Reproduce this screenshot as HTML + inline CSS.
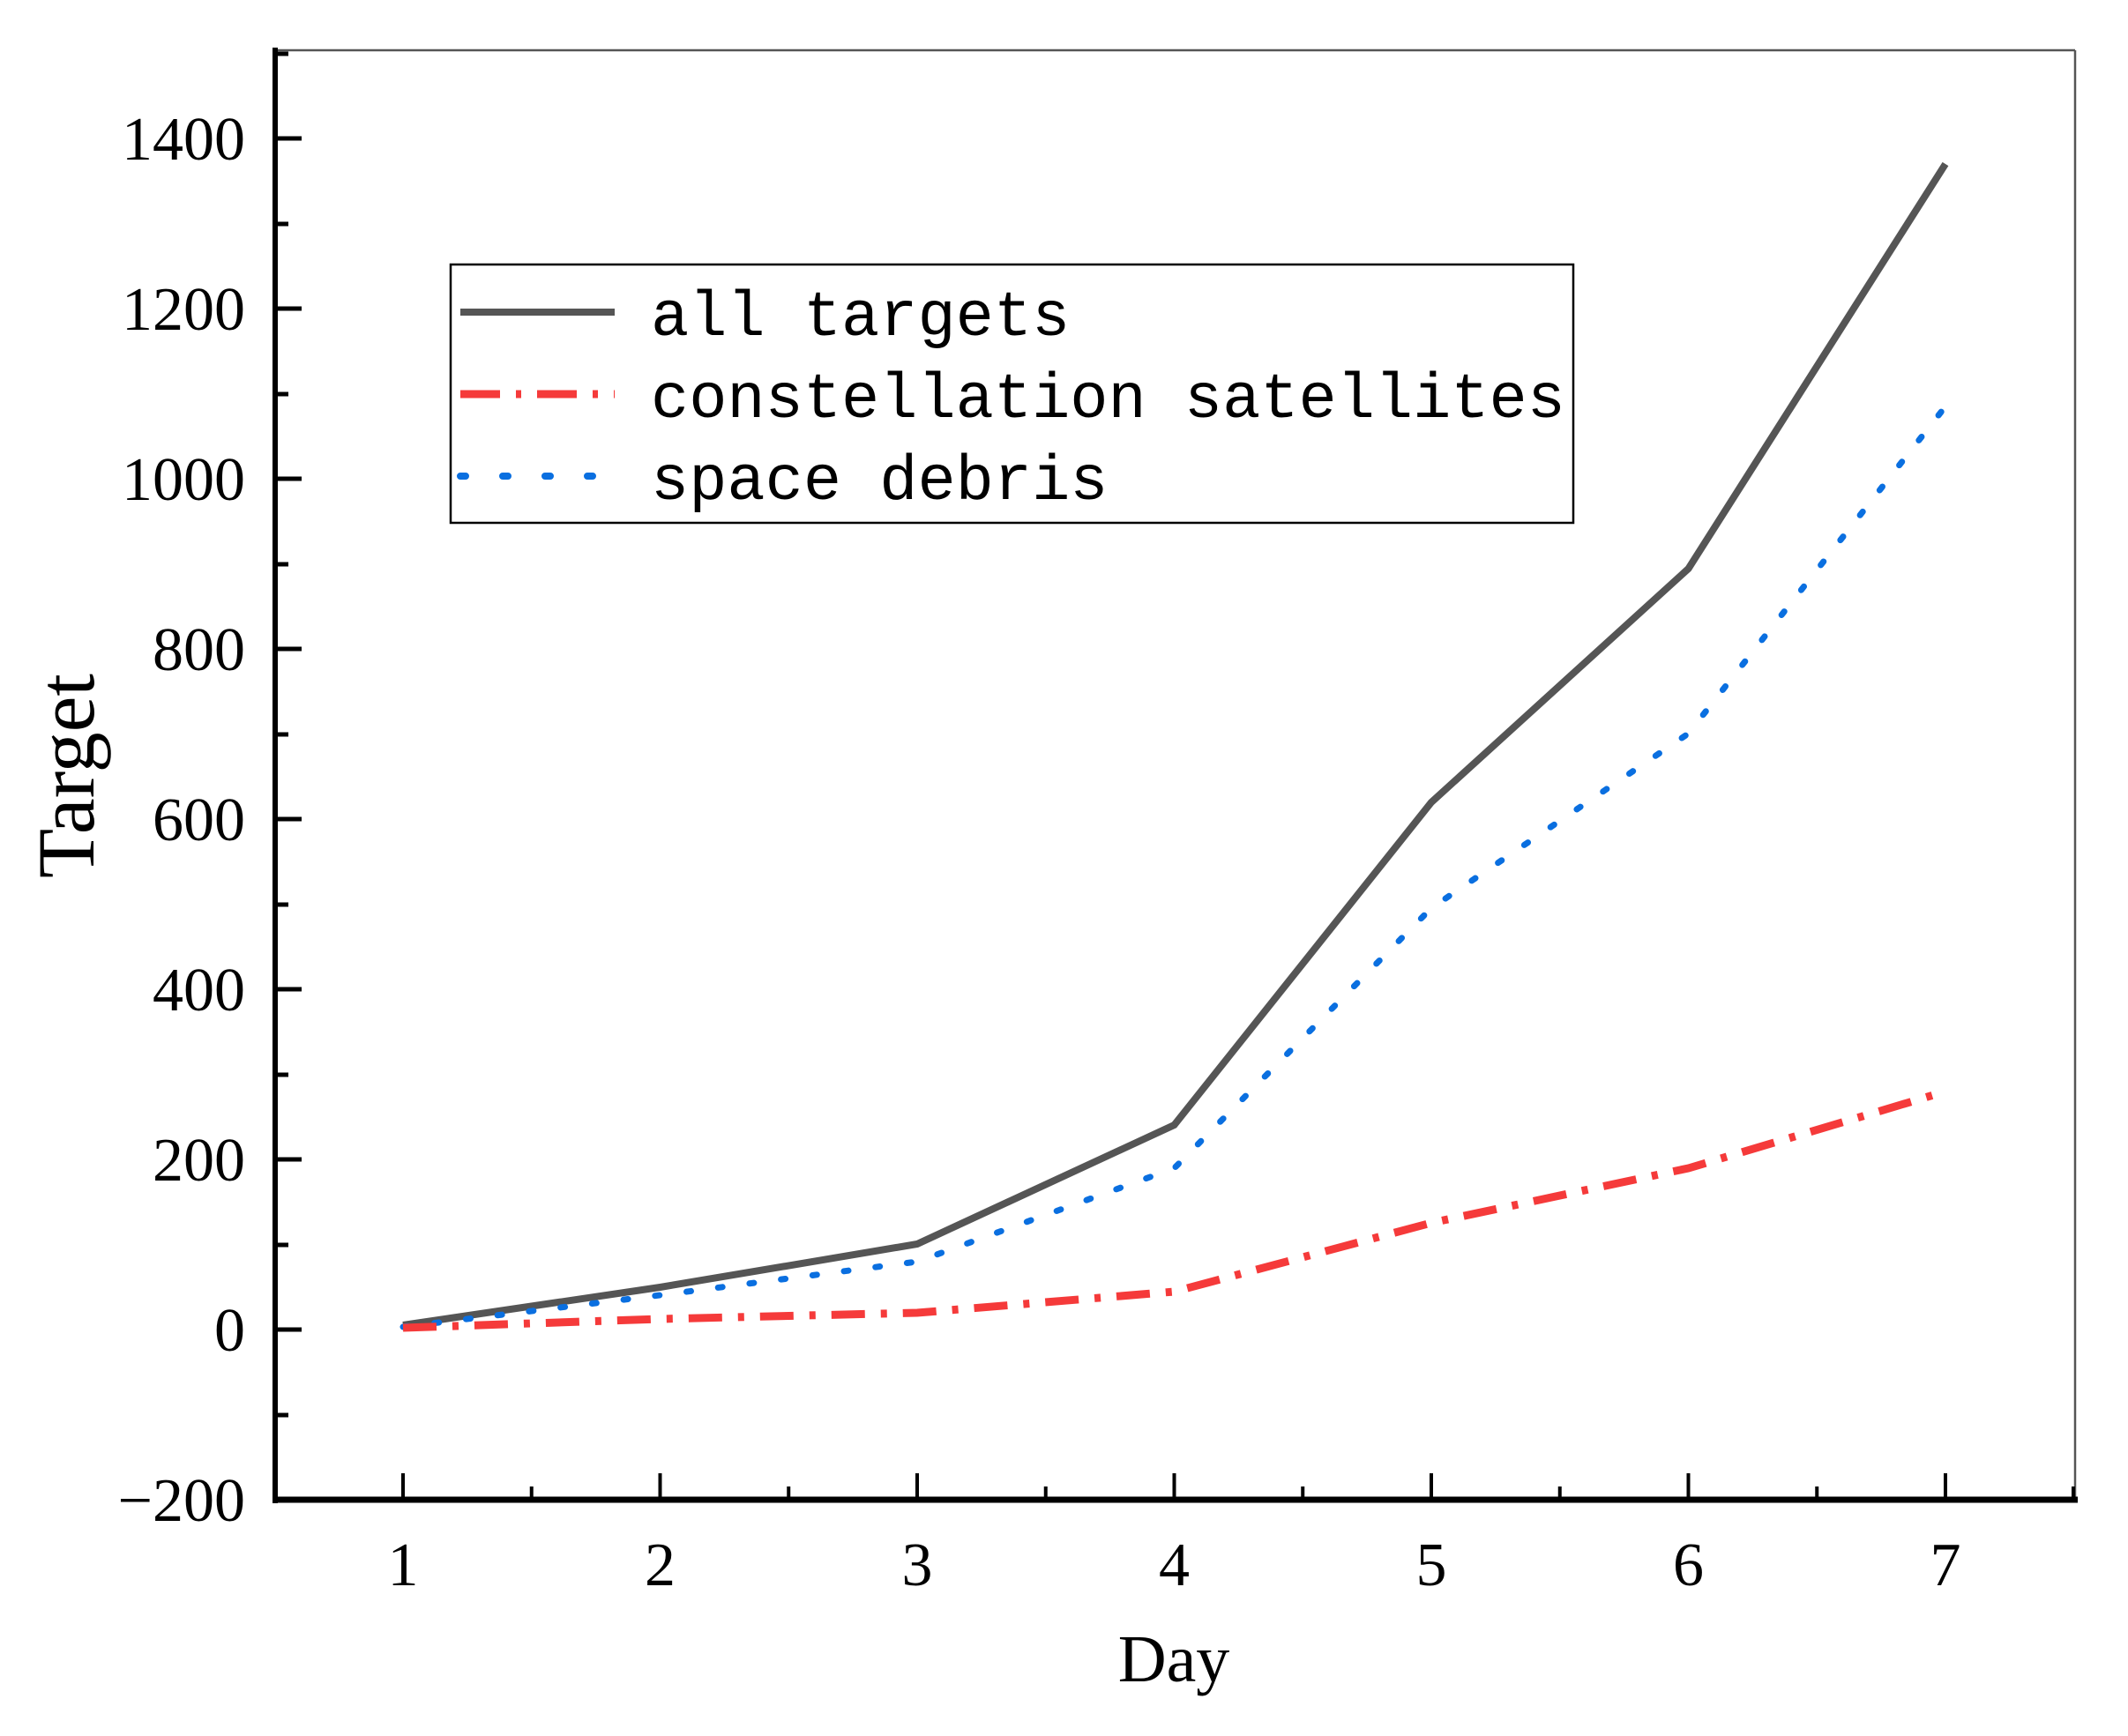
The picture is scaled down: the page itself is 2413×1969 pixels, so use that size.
<!DOCTYPE html>
<html><head><meta charset="utf-8"><style>html,body{margin:0;padding:0;background:#fff}</style></head>
<body>
<svg width="2413" height="1964" viewBox="0 0 2413 1964" xmlns="http://www.w3.org/2000/svg">
<rect width="2413" height="1964" fill="#fff"/>
<line x1="312" y1="57" x2="2353" y2="57" stroke="#555" stroke-width="2.5"/>
<line x1="2353" y1="57" x2="2353" y2="1701" stroke="#555" stroke-width="2.5"/>
<line x1="312" y1="54" x2="312" y2="1705" stroke="#000" stroke-width="6"/>
<line x1="309" y1="1701" x2="2356" y2="1701" stroke="#000" stroke-width="7"/>
<g stroke="#000" stroke-width="5">
<line x1="312" y1="157" x2="342" y2="157"/><line x1="312" y1="350" x2="342" y2="350"/><line x1="312" y1="543" x2="342" y2="543"/><line x1="312" y1="736" x2="342" y2="736"/><line x1="312" y1="929" x2="342" y2="929"/><line x1="312" y1="1122" x2="342" y2="1122"/><line x1="312" y1="1315" x2="342" y2="1315"/><line x1="312" y1="1508" x2="342" y2="1508"/>
<line x1="312" y1="61" x2="327" y2="61"/><line x1="312" y1="254" x2="327" y2="254"/><line x1="312" y1="447" x2="327" y2="447"/><line x1="312" y1="640" x2="327" y2="640"/><line x1="312" y1="833" x2="327" y2="833"/><line x1="312" y1="1026" x2="327" y2="1026"/><line x1="312" y1="1219" x2="327" y2="1219"/><line x1="312" y1="1412" x2="327" y2="1412"/><line x1="312" y1="1605" x2="327" y2="1605"/>
</g>
<g stroke="#000" stroke-width="4">
<line x1="457" y1="1671" x2="457" y2="1701"/><line x1="748.5" y1="1671" x2="748.5" y2="1701"/><line x1="1040" y1="1671" x2="1040" y2="1701"/><line x1="1331.5" y1="1671" x2="1331.5" y2="1701"/><line x1="1623" y1="1671" x2="1623" y2="1701"/><line x1="1914.5" y1="1671" x2="1914.5" y2="1701"/><line x1="2206" y1="1671" x2="2206" y2="1701"/>
<line x1="602.75" y1="1686" x2="602.75" y2="1701"/><line x1="894.25" y1="1686" x2="894.25" y2="1701"/><line x1="1185.75" y1="1686" x2="1185.75" y2="1701"/><line x1="1477.25" y1="1686" x2="1477.25" y2="1701"/><line x1="1768.75" y1="1686" x2="1768.75" y2="1701"/><line x1="2060.25" y1="1686" x2="2060.25" y2="1701"/><line x1="2351" y1="1686" x2="2351" y2="1701"/>
</g>
<g font-family="Liberation Serif, serif" font-size="70" fill="#000" text-anchor="end">
<text x="278" y="181">1400</text><text x="278" y="374">1200</text><text x="278" y="567">1000</text><text x="278" y="760">800</text><text x="278" y="953">600</text><text x="278" y="1146">400</text><text x="278" y="1339">200</text><text x="278" y="1532">0</text><text x="278" y="1725">−200</text>
</g>
<g font-family="Liberation Serif, serif" font-size="70" fill="#000" text-anchor="middle">
<text x="457" y="1798">1</text><text x="748.5" y="1798">2</text><text x="1040" y="1798">3</text><text x="1331.5" y="1798">4</text><text x="1623" y="1798">5</text><text x="1914.5" y="1798">6</text><text x="2206" y="1798">7</text>
<text x="1331" y="1907" font-size="76">Day</text>
<text transform="translate(106,880) rotate(-90)" font-size="92">Target</text>
</g>
<polyline fill="none" stroke="#555" stroke-width="8" points="457,1503 748.5,1460 1040,1411 1331.5,1276 1623,910 1914.5,645 2206,186"/>
<polyline fill="none" stroke="#0a6fe0" stroke-width="7" stroke-dasharray="5,31" stroke-linecap="round" points="457,1505 748.5,1469 1040,1431 1331.5,1325 1623,1030 1914.5,832 2206,461"/>
<polyline fill="none" stroke="#f53a3a" stroke-width="9" stroke-dasharray="38,18,7,18" points="457,1506 748.5,1496 1040,1489 1331.5,1465 1623,1387 1914.5,1325 2206,1238"/>
<rect x="511" y="300" width="1273" height="293" fill="#fff" stroke="#000" stroke-width="2.5"/>
<line x1="522" y1="354" x2="697" y2="354" stroke="#555" stroke-width="8"/>
<line x1="522" y1="447" x2="697" y2="447" stroke="#f53a3a" stroke-width="9" stroke-dasharray="45,18,6,18"/>
<line x1="522" y1="540" x2="697" y2="540" stroke="#0a6fe0" stroke-width="8" stroke-dasharray="6,42" stroke-linecap="round"/>
<g font-family="Liberation Mono, monospace" font-size="72" fill="#000">
<text x="738" y="380">all targets</text>
<text x="738" y="473">constellation satellites</text>
<text x="738" y="566">space debris</text>
</g>
</svg>
</body></html>
